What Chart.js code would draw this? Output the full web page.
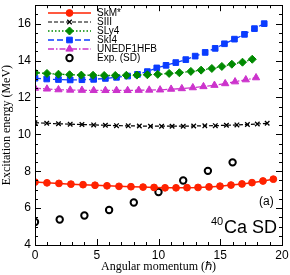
<!DOCTYPE html>
<html>
<head>
<meta charset="utf-8">
<script src="https://cdn.jsdelivr.net/npm/chart.js@4"></script>
<style>
  html, body { margin: 0; padding: 0; background: #fff; }
  #wrap { width: 290px; height: 275px; position: relative; }
</style>
</head>
<body>
<div id="wrap"><canvas id="c"></canvas></div>
<script>
// 40Ca superdeformed band: excitation energy vs angular momentum
const skmSpin = [0, 0.97, 1.94, 2.91, 3.89, 4.86, 5.83, 6.8, 7.77, 8.75, 9.64, 10.53, 11.42, 12.31, 13.2, 14.09, 14.98, 15.87, 16.76, 17.57, 18.46, 19.3];
const skmE = [7.41, 7.37, 7.34, 7.30, 7.27, 7.24, 7.21, 7.18, 7.16, 7.14, 7.12, 7.10, 7.10, 7.11, 7.12, 7.15, 7.19, 7.25, 7.31, 7.38, 7.47, 7.57];

const siiiSpin = [0, 0.95, 1.9, 2.85, 3.8, 4.75, 5.7, 6.6, 7.55, 8.45, 9.35, 10.25, 11.1, 12.0, 12.85, 13.75, 14.6, 15.5, 16.35, 17.2, 18.0, 18.8];
const siiiE = [10.63, 10.6, 10.57, 10.55, 10.53, 10.51, 10.49, 10.47, 10.46, 10.45, 10.44, 10.44, 10.44, 10.44, 10.45, 10.46, 10.47, 10.49, 10.51, 10.53, 10.56, 10.6];

const sly4Spin = [0, 0.97, 1.9, 2.8, 3.75, 4.7, 5.6, 6.5, 7.4, 8.25, 9.1, 9.94, 10.86, 11.69, 12.62, 13.45, 14.32, 15.13, 15.94, 16.8, 17.59];
const sly4E = [13.34, 13.3, 13.26, 13.23, 13.21, 13.2, 13.19, 13.19, 13.2, 13.21, 13.23, 13.25, 13.3, 13.34, 13.41, 13.48, 13.57, 13.68, 13.8, 13.91, 14.07];

const ski4Spin = [0, 0.95, 1.9, 2.85, 3.8, 4.75, 5.7, 6.6, 7.5, 8.3, 9.1, 9.86, 10.61, 11.4, 12.21, 12.97, 13.78, 14.59, 15.34, 16.15, 16.96, 17.77, 18.56];
const ski4E = [13.04, 13.0, 12.97, 12.95, 12.96, 12.98, 13.03, 13.09, 13.16, 13.25, 13.4, 13.6, 13.74, 13.89, 14.05, 14.24, 14.44, 14.66, 14.91, 15.16, 15.42, 15.73, 16.0];

const unedfSpin = [0, 0.97, 1.9, 2.85, 3.8, 4.75, 5.7, 6.6, 7.5, 8.4, 9.25, 10.13, 11.02, 11.89, 12.78, 13.64, 14.53, 15.4, 16.2, 17.07, 17.9];
const unedfE = [12.5, 12.46, 12.42, 12.4, 12.39, 12.38, 12.38, 12.38, 12.38, 12.39, 12.4, 12.41, 12.45, 12.48, 12.53, 12.59, 12.66, 12.75, 12.85, 12.96, 13.07];

const expSpin = [0, 2, 4, 6, 8, 10, 12, 14, 16];
const expE = [5.25, 5.38, 5.6, 5.9, 6.3, 6.87, 7.5, 8.02, 8.48];

const yTicks = [4, 6, 8, 10, 12, 14, 16];

const pts = (xs, ys) => xs.map((x, i) => ({ x: x, y: ys[i] }));

const datasets = [
    { label: "SkM*", data: pts(skmSpin, skmE), borderColor: "#ff2200", backgroundColor: "#ff2200",
      pointStyle: "circle", pointRadius: 3.4, borderWidth: 1.5, borderDash: [] },
    { label: "SIII", data: pts(siiiSpin, siiiE), borderColor: "#000", backgroundColor: "#000",
      pointStyle: "crossRot", pointRadius: 3.2, borderWidth: 1.2, borderDash: [4, 2] },
    { label: "SLy4", data: pts(sly4Spin, sly4E), borderColor: "#008a00", backgroundColor: "#008a00",
      pointStyle: "rectRot", pointRadius: 4, borderWidth: 1.3, borderDash: [1.5, 2] },
    { label: "SkI4", data: pts(ski4Spin, ski4E), borderColor: "#0a3cff", backgroundColor: "#0a3cff",
      pointStyle: "rect", pointRadius: 4, borderWidth: 1.3, borderDash: [6, 3] },
    { label: "UNEDF1HFB", data: pts(unedfSpin, unedfE), borderColor: "#cc33cc", backgroundColor: "#cc33cc",
      pointStyle: "triangle", pointRadius: 4.2, borderWidth: 1.3, borderDash: [6, 2, 1.5, 2] },
    { label: "Exp. (SD)", data: pts(expSpin, expE), borderColor: "#000", backgroundColor: "rgba(0,0,0,0)",
      pointStyle: "circle", pointRadius: 3.2, borderWidth: 2, showLine: false, borderDash: [] },
];
datasets.forEach((d) => {
    if (d.showLine === undefined) d.showLine = true;
    d.pointBorderColor = d.borderColor;
    d.pointBackgroundColor = d.backgroundColor;
    d.pointBorderWidth = d.pointStyle === "crossRot" ? 1.3 : (d.label === "Exp. (SD)" ? 2 : 1);
    d.pointHoverRadius = d.pointRadius;
    d.clip = 0;
});

// inward ticks, frame, legend and panel labels
const framePlugin = {
    id: "frame",
    afterDatasetsDraw(chart) {
        const { ctx, chartArea: a, scales } = chart;
        const xs = scales.x, ys = scales.y;
        ctx.save();
        ctx.strokeStyle = "#000";
        ctx.lineWidth = 1;
        ctx.setLineDash([]);
        ctx.strokeRect(Math.round(a.left) + 0.5, Math.round(a.top) + 0.5,
            Math.round(a.right - a.left), Math.round(a.bottom - a.top));
        ctx.beginPath();
        for (let v = 0; v <= 20; v++) {
            const len = v % 5 === 0 ? 6 : 3;
            const px = Math.round(xs.getPixelForValue(v)) + 0.5;
            ctx.moveTo(px, a.bottom); ctx.lineTo(px, a.bottom - len);
            ctx.moveTo(px, a.top); ctx.lineTo(px, a.top + len);
        }
        for (let v = 4; v <= 17; v += 0.5) {
            const len = v % 2 === 0 ? 6 : 3;
            const py = Math.round(ys.getPixelForValue(v)) + 0.5;
            ctx.moveTo(a.left, py); ctx.lineTo(a.left + len, py);
            ctx.moveTo(a.right, py); ctx.lineTo(a.right - len, py);
        }
        ctx.stroke();

        // legend
        const x0 = 48, x1 = 91, tx = 97;
        let y = 13;
        ctx.font = "10px 'Liberation Sans', Arial, sans-serif";
        ctx.textBaseline = "middle";
        ctx.textAlign = "left";
        chart.data.datasets.forEach((d) => {
            if (d.showLine) {
                ctx.strokeStyle = d.borderColor;
                ctx.lineWidth = d.borderWidth;
                ctx.setLineDash(d.borderDash);
                ctx.beginPath();
                ctx.moveTo(x0, y); ctx.lineTo(x1, y);
                ctx.stroke();
            }
            ctx.setLineDash([]);
            ctx.strokeStyle = d.pointBorderColor;
            ctx.fillStyle = d.pointBackgroundColor;
            ctx.lineWidth = d.pointBorderWidth;
            Chart.helpers.drawPoint(ctx, { pointStyle: d.pointStyle, radius: d.pointRadius, rotation: 0, borderWidth: d.pointBorderWidth },
                (x0 + x1) / 2, y);
            ctx.fillStyle = "#000";
            ctx.fillText(d.label, tx, y + 0.5);
            y += 9;
        });

        // panel labels
        ctx.fillStyle = "#000";
        ctx.textBaseline = "alphabetic";
        ctx.font = "12px 'Liberation Sans', Arial, sans-serif";
        ctx.fillText("(a)", 259, 205);
        ctx.font = "11px 'Liberation Sans', Arial, sans-serif";
        ctx.fillText("40", 211, 225);
        ctx.font = "18px 'Liberation Sans', Arial, sans-serif";
        ctx.fillText("Ca SD", 224, 233);
        ctx.restore();
    },
};

new Chart(document.getElementById("c"), {
    type: "scatter",
    data: { datasets },
    options: {
        responsive: true,
        maintainAspectRatio: false,
        animation: false,
        events: [],
        layout: { padding: { left: 0, right: 8, top: 4, bottom: 0 } },
        plugins: { legend: { display: false }, tooltip: { enabled: false } },
        scales: {
            x: {
                type: "linear", min: 0, max: 20,
                grid: { display: false, drawTicks: false, tickLength: 0 }, border: { display: false },
                afterFit(s) { s.height = 30; s.paddingLeft = 0; s.paddingRight = 0; },
                ticks: { stepSize: 5, padding: 3, color: "#000", maxRotation: 0,
                    font: { family: "'Liberation Sans', Arial, sans-serif", size: 12 } },
                title: { display: true, text: "Angular momentum (ℏ)", color: "#000",
                    padding: { top: 0, bottom: 1 },
                    font: { family: "'Liberation Serif', 'Times New Roman', serif", size: 12 } },
            },
            y: {
                type: "linear", min: 4, max: 17,
                grid: { display: false, drawTicks: false, tickLength: 0 }, border: { display: false },
                afterFit(s) { s.width = 35; s.paddingTop = 0; s.paddingBottom = 0; },
                afterBuildTicks(s) { s.ticks = yTicks.map((v) => ({ value: v })); },
                ticks: { padding: 4, color: "#000",
                    font: { family: "'Liberation Sans', Arial, sans-serif", size: 12 } },
                title: { display: true, text: "Excitation energy (MeV)", color: "#000",
                    padding: { top: 0, bottom: 0 },
                    font: { family: "'Liberation Serif', 'Times New Roman', serif", size: 12 } },
            },
        },
    },
    plugins: [framePlugin],
});
</script>
</body>
</html>
